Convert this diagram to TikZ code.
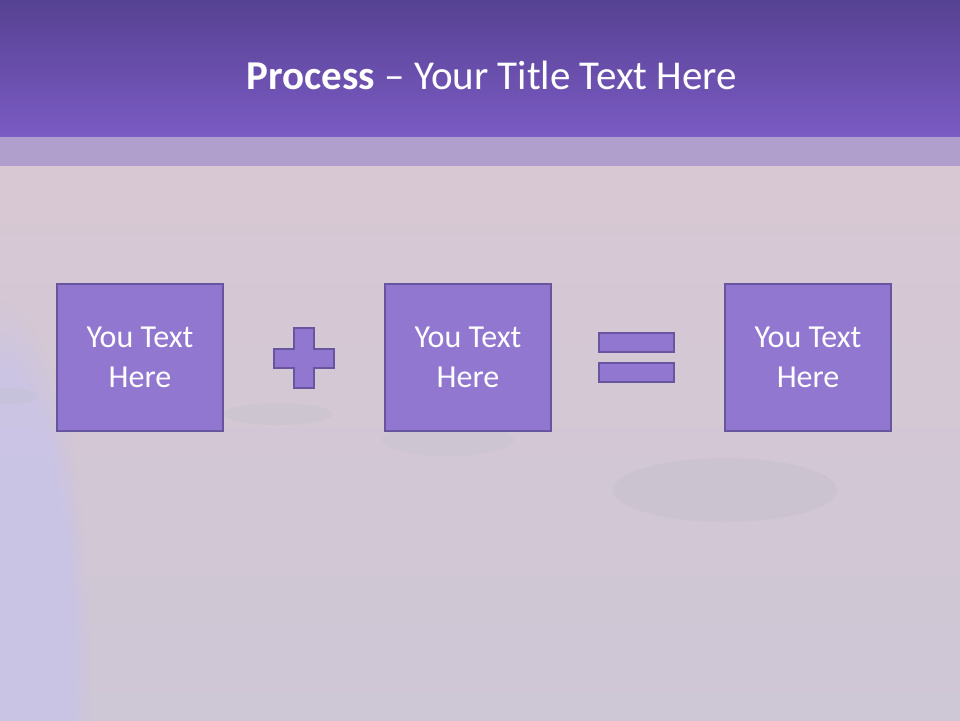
\documentclass[tikz,border=0pt]{standalone}
\usepackage{fontspec}
\setmainfont{Carlito}
\usetikzlibrary{fadings}
\definecolor{procdark}{RGB}{86,66,146}
\definecolor{procmid}{RGB}{123,91,196}
\definecolor{procband}{RGB}{176,158,204}
\definecolor{procbgtop}{RGB}{216,200,211}
\definecolor{procbgbot}{RGB}{206,199,214}
\definecolor{proclav}{RGB}{198,194,238}
\definecolor{procstone}{RGB}{190,190,198}
\definecolor{procbox}{RGB}{145,119,208}
\definecolor{procline}{RGB}{104,85,160}

\begin{document}
\begin{tikzpicture}[x=1pt,y=-1pt,
  textbox/.style={draw=procline,line width=2pt,fill=procbox,minimum width=166pt,
    minimum height=147pt,inner sep=0pt,text=white,align=center,
    font=\fontsize{32}{40}\selectfont},
  sign/.style={draw=procline,line width=2pt,fill=procbox}]
  \useasboundingbox (0,0) rectangle (960,720);

  % background
  \shade[top color=procbgtop,bottom color=procbgbot] (0,137) rectangle (960,720);
  \fill[proclav,opacity=0.6,path fading=circle with fuzzy edge 20 percent]
    (0,660) ellipse [x radius=90pt,y radius=360pt];
  \fill[procstone,opacity=0.3] (725,490) ellipse [x radius=112pt,y radius=32pt];
  \fill[procstone,opacity=0.25] (278,414) ellipse [x radius=54pt,y radius=11pt];
  \fill[procstone,opacity=0.2] (448,440) ellipse [x radius=66pt,y radius=16pt];
  \fill[procstone,opacity=0.25] (8,396) ellipse [x radius=30pt,y radius=8pt];

  % title bar
  \shade[top color=procdark,bottom color=procmid] (0,0) rectangle (960,137);
  \fill[procband] (0,137) rectangle (960,166);
  \node[text=white,font=\fontsize{41}{48}\selectfont] (title) at (492,75)
    {\textbf{Process} – Your Title Text Here};

  % boxes
  \node[textbox] (box1) at (140,357.5) {You Text\\Here};
  \node[textbox] (box2) at (468,357.5) {You Text\\Here};
  \node[textbox] (box3) at (808,357.5) {You Text\\Here};

  % plus
  \draw[sign] (294,328) -- (314,328) -- (314,349) -- (334,349) -- (334,368)
    -- (314,368) -- (314,388) -- (294,388) -- (294,368) -- (274,368)
    -- (274,349) -- (294,349) -- cycle;

  % equals
  \draw[sign] (599,333) rectangle (674,352);
  \draw[sign] (599,363) rectangle (674,382);
\end{tikzpicture}
\end{document}
